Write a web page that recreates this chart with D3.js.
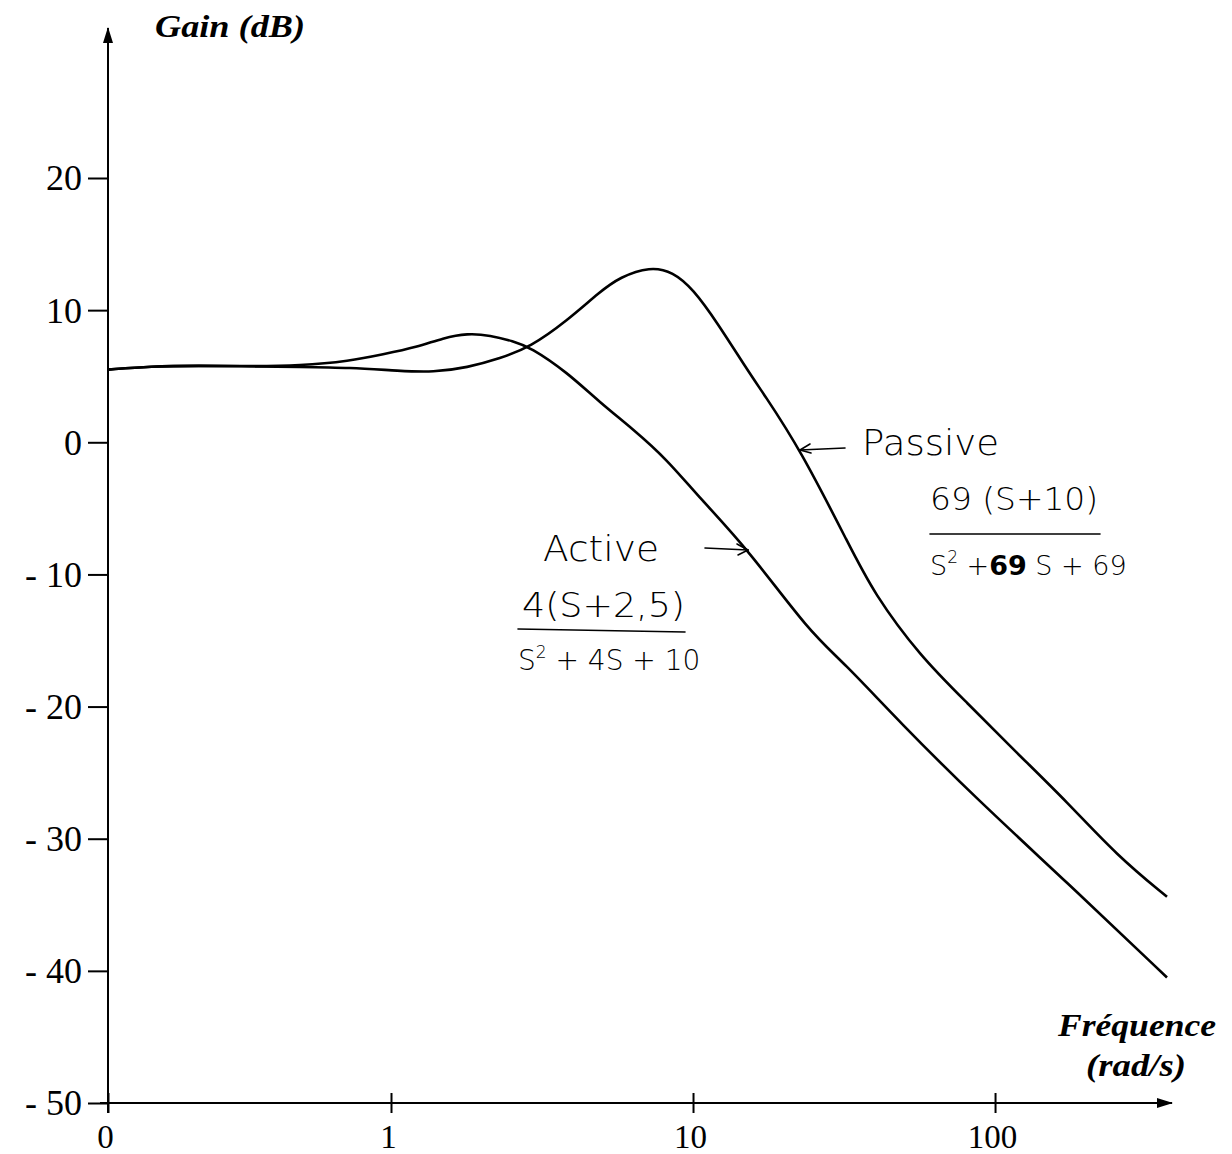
<!DOCTYPE html>
<html>
<head>
<meta charset="utf-8">
<script src="https://cdn.jsdelivr.net/npm/d3@7"></script>
<style>
  html, body { margin: 0; padding: 0; background: #fff; }
  svg { display: block; }
</style>
</head>
<body>
<svg id="chart" width="1232" height="1154"></svg>
<script>
// ---------- data ----------
const freqActive = [0.1156, 0.16, 0.23, 0.34, 0.5, 0.73, 0.94, 1.22, 1.49, 1.79, 2.13, 2.54, 2.89, 3.83, 4.92, 6.33, 8.2, 10.5, 15.2, 24.4, 31.4, 48.4, 87, 173, 371];
const gainActive = [5.5, 5.75, 5.8, 5.75, 5.8, 6.15, 6.65, 7.2, 7.9, 8.25, 8.1, 7.65, 7.2, 5.3, 3.0, 1.0, -1.3, -4.2, -8.1, -14.4, -16.6, -21.2, -27.0, -33.3, -40.5];

const freqPassive = [0.1156, 0.16, 0.23, 0.34, 0.5, 0.73, 1.07, 1.38, 1.79, 2.30, 2.89, 3.83, 4.92, 5.73, 7.2, 8.59, 10.0, 12.0, 15.2, 17.1, 22.6, 33.1, 39.5, 56.5, 80.7, 118, 173, 254, 371];
const gainPassive = [5.5, 5.75, 5.8, 5.75, 5.7, 5.65, 5.4, 5.3, 5.65, 6.35, 7.2, 9.2, 11.4, 12.5, 13.3, 12.9, 11.6, 9.1, 5.4, 3.7, -0.5, -7.9, -11.35, -16.2, -19.7, -23.5, -27.2, -31.3, -34.4];

const yTickValues = [20, 10, 0, -10, -20, -30, -40, -50];
const yTickLabels = ["20", "10", "0", "- 10", "- 20", "- 30", "- 40", "- 50"];
const xTickValues = [0.1156, 1, 10, 100];
const xTickLabels = ["0", "1", "10", "100"];

const yTitle = "Gain (dB)";
const xTitleLines = ["Fréquence", "(rad/s)"];

// ---------- scales ----------
const svg = d3.select("#chart");
const x = d3.scaleLog().domain([0.1156, 371]).range([108, 1167]);
const y = d3.scaleLinear().domain([-50, 20]).range([1103, 178]);

const defs = svg.append("defs");
defs.append("marker").attr("id", "arrow").attr("viewBox", "0 0 16 10")
  .attr("refX", 15).attr("refY", 5).attr("markerWidth", 16).attr("markerHeight", 10)
  .attr("markerUnits", "userSpaceOnUse").attr("orient", "auto")
  .append("path").attr("d", "M0,0 L16,5 L0,10 Z").attr("fill", "#000");

const serif = "'Liberation Serif', 'Times New Roman', serif";

// ---------- axes lines ----------
svg.append("line").attr("x1", 108).attr("y1", 1113).attr("x2", 108).attr("y2", 28)
  .attr("stroke", "#000").attr("stroke-width", 2).attr("marker-end", "url(#arrow)");
svg.append("line").attr("x1", 100).attr("y1", 1103).attr("x2", 1172).attr("y2", 1103)
  .attr("stroke", "#000").attr("stroke-width", 2).attr("marker-end", "url(#arrow)");

// y axis ticks
const gy = svg.append("g").attr("transform", "translate(108,0)")
  .call(d3.axisLeft(y).tickValues(yTickValues)
    .tickFormat((d, i) => yTickLabels[i]).tickSize(20).tickPadding(6));
gy.select(".domain").remove();
gy.selectAll(".tick line").attr("stroke", "#000").attr("stroke-width", 2);
gy.selectAll(".tick text").attr("font-family", serif).attr("font-size", 36)
  .attr("fill", "#000").attr("dy", "0.33em");

// x axis ticks
const gx = svg.append("g").attr("transform", "translate(0,1103)")
  .call(d3.axisBottom(x).tickValues(xTickValues)
    .tickFormat((d, i) => xTickLabels[i]).tickSize(10));
gx.select(".domain").remove();
gx.selectAll(".tick line").attr("y1", -10).attr("y2", 10).attr("stroke", "#000").attr("stroke-width", 2);
gx.selectAll(".tick text").attr("font-family", serif).attr("font-size", 33)
  .attr("fill", "#000").attr("y", 45).attr("dy", 0).attr("dx", -3);

// titles
svg.append("text").attr("x", 155).attr("y", 37).text(yTitle)
  .attr("font-family", serif).attr("font-size", 32).attr("font-style", "italic")
  .attr("font-weight", "bold").attr("textLength", 150).attr("lengthAdjust", "spacingAndGlyphs");
svg.append("text").attr("x", 1058).attr("y", 1036).text(xTitleLines[0])
  .attr("font-family", serif).attr("font-size", 31).attr("font-style", "italic")
  .attr("font-weight", "bold").attr("textLength", 158).attr("lengthAdjust", "spacingAndGlyphs");
svg.append("text").attr("x", 1086).attr("y", 1076).text(xTitleLines[1])
  .attr("font-family", serif).attr("font-size", 31).attr("font-style", "italic")
  .attr("font-weight", "bold").attr("textLength", 100).attr("lengthAdjust", "spacingAndGlyphs");

// ---------- curves ----------
const line = d3.line().x(d => x(d[0])).y(d => y(d[1])).curve(d3.curveBasis);
svg.append("path").datum(d3.zip(freqPassive, gainPassive)).attr("d", line)
  .attr("fill", "none").attr("stroke", "#000").attr("stroke-width", 2.6);
svg.append("path").datum(d3.zip(freqActive, gainActive)).attr("d", line)
  .attr("fill", "none").attr("stroke", "#000").attr("stroke-width", 2.6);

// ---------- handwritten annotations ----------
const hand = "'DejaVu Sans', 'Open Sans', sans-serif";
function note(tx, ty, str, size, len) {
  const t = svg.append("text").attr("x", tx).attr("y", ty).text(str)
    .attr("font-family", hand).attr("font-weight", 200).attr("font-size", size).attr("fill", "#000");
  if (len) t.attr("textLength", len).attr("lengthAdjust", "spacingAndGlyphs");
  return t;
}
function stroke(x1, y1, x2, y2, w) {
  svg.append("line").attr("x1", x1).attr("y1", y1).attr("x2", x2).attr("y2", y2)
    .attr("stroke", "#000").attr("stroke-width", w || 1.6).attr("stroke-linecap", "round");
}

note(862, 455, "Passive", 36, 137);
stroke(845, 448, 800, 450);
stroke(800, 450, 810, 444);
stroke(800, 450, 811, 453);

note(543, 561, "Active", 36, 116);
stroke(705, 548, 748, 550);
stroke(748, 550, 737, 544);
stroke(748, 550, 738, 555);

// active fraction
note(522, 617, "4(S+2,5)", 33, 163);
stroke(518, 629, 685, 632, 1.6);
const dA = note(518, 670, "", 28);
dA.append("tspan").text("S");
dA.append("tspan").text("2").attr("dy", -12).attr("font-size", 17);
dA.append("tspan").text(" + 4S + 10").attr("dy", 12);

// passive fraction
note(930, 510, "69 (S+10)", 32, 168);
stroke(930, 534, 1100, 534, 1.6);
const dP = note(930, 575, "", 27);
dP.append("tspan").text("S");
dP.append("tspan").text("2").attr("dy", -12).attr("font-size", 17);
dP.append("tspan").text(" +").attr("dy", 12);
dP.append("tspan").text("69").attr("font-weight", "bold");
dP.append("tspan").text(" S + 69");
</script>
</body>
</html>
